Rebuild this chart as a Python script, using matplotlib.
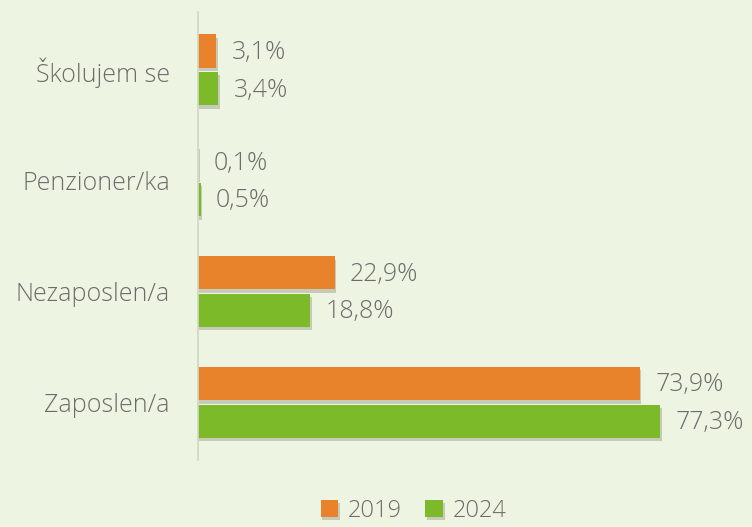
import matplotlib.pyplot as plt
import matplotlib.patheffects as pe
import numpy as np

categories = ["Školujem se", "Penzioner/ka", "Nezaposlen/a", "Zaposlen/a"]
values_2019 = [3.1, 0.1, 22.9, 73.9]
values_2024 = [3.4, 0.5, 18.8, 77.3]
labels_2019 = ["3,1%", "0,1%", "22,9%", "73,9%"]
labels_2024 = ["3,4%", "0,5%", "18,8%", "77,3%"]

bg = "#eef4e2"
orange = "#e8832c"
green = "#7cba2a"
text_color = "#6c6c6c"

plt.rcParams["font.family"] = ["Open Sans", "DejaVu Sans"]

fig = plt.figure(figsize=(7.52, 5.27), dpi=100, facecolor=bg)
ax = fig.add_axes([0.263, 0.127, 0.716, 0.85], facecolor=bg)

y = np.arange(len(categories))
h = 0.30
off = 0.17
shadow = [pe.SimplePatchShadow(offset=(1, -2.5), shadow_rgbFace="#6b6b5b", alpha=0.3), pe.Normal()]

b1 = ax.barh(y - off, values_2019, height=h, color=orange, label="2019")
b2 = ax.barh(y + off, values_2024, height=h, color=green, label="2024")
for bar in list(b1) + list(b2):
    bar.set_path_effects(shadow)

for bars, labels in [(b1, labels_2019), (b2, labels_2024)]:
    for bar, lab in zip(bars, labels):
        ax.annotate(lab, (bar.get_width(), bar.get_y() + bar.get_height() / 2),
                    xytext=(11, -1), textcoords="offset points",
                    va="center", ha="left", fontsize=18, color=text_color,
                    fontweight="light")

ax.set_xlim(0, 90)
ax.set_ylim(3.52, -0.52)
ax.set_yticks(y)
ax.set_yticklabels(categories, fontsize=18, color=text_color, fontweight="light")
ax.tick_params(axis="y", length=0, pad=20)
ax.set_xticks([])
for s in ["top", "right", "bottom"]:
    ax.spines[s].set_visible(False)
ax.spines["left"].set_color("#d0d6c6")
ax.spines["left"].set_linewidth(1.2)

leg = fig.legend(handles=[b1, b2], labels=["2019", "2024"], loc="lower center",
                 bbox_to_anchor=(0.55, -0.032), ncol=2, frameon=False,
                 prop={"size": 17, "weight": "light"}, labelcolor=text_color,
                 handlelength=0.75, handleheight=0.75,
                 handletextpad=0.4, columnspacing=1.0)

fig.savefig("out.png", dpi=100, facecolor=bg)
